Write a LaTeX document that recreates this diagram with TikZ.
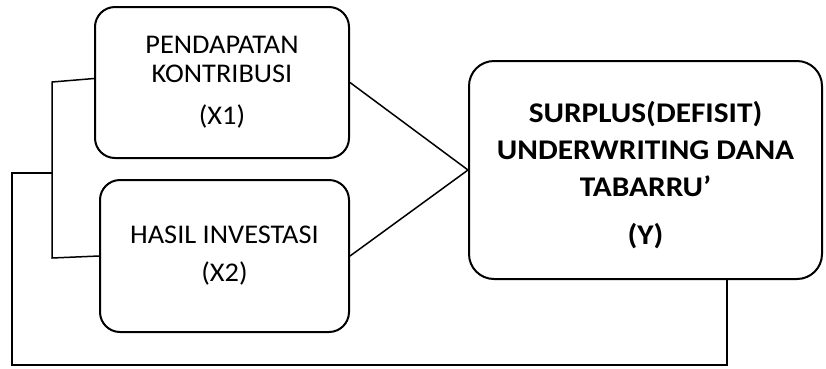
\documentclass[tikz,border=0pt]{standalone}
\usepackage{fontspec}
\setmainfont{Carlito}[FakeStretch=1.05,BoldFeatures={FakeStretch=1.1}]
\begin{document}
\begin{tikzpicture}[box/.style={draw,rounded corners=20pt,line width=2pt,align=center,inner sep=0pt,font=\fontsize{27}{29}\selectfont},link/.style={line width=1.5pt},x=1pt,y=-1pt]
    \useasboundingbox (0,0) rectangle (826,368);
    \node[box,minimum width=254pt,minimum height=151pt] (x1) at (222,82.5) {PENDAPATAN\\KONTRIBUSI\\[13pt](X1)};
    \node[box,minimum width=249pt,minimum height=152pt] (x2) at (224.5,256) {HASIL INVESTASI\\[9pt](X2)};
    \node[box,rounded corners=25pt,minimum width=353pt,minimum height=218pt,font=\bfseries\fontsize{28.5}{37}\selectfont] (y) at (645.5,170) {\rule{0pt}{32pt}SURPLUS(DEFISIT)\\UNDERWRITING DANA\\TABARRU'\\[11pt](Y)};
    % both variables into Y
    \draw[link] (x1.east) -- (y.west);
    \draw[link] (x2.east) -- (y.west);
    % bracket on the left
    \coordinate (jointop) at (52,82);
    \coordinate (jointbot) at (52,258);
    \draw[link] ([yshift=4pt]x1.west) -- (jointop) -- (jointbot) -- (x2.west);
    % feedback line
    \coordinate (fbtop) at (52,173);
    \coordinate (fbcorner) at (727,365);
    \draw[link] (fbtop) -- (12,173) |- (fbcorner) -- (fbcorner |- y.south);
\end{tikzpicture}
\end{document}
